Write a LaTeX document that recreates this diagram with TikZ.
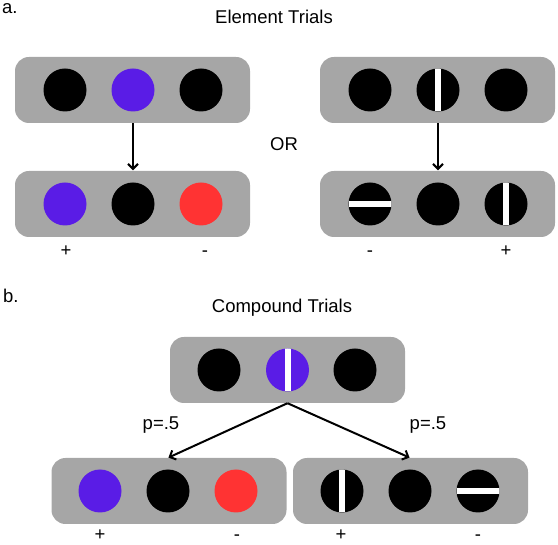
\documentclass[tikz,border=0pt]{standalone}
\usepackage{fontspec}
\setmainfont{Liberation Sans}
\usetikzlibrary{arrows.meta}
\definecolor{boxgray}{HTML}{A6A6A6}
\definecolor{purp}{HTML}{5A1CE6}
\definecolor{redd}{HTML}{FF3333}
\begin{document}
\begin{tikzpicture}[x=1pt,y=-1pt,
  panel/.style={fill=boxgray, rounded corners=14pt, minimum width=235pt, minimum height=66pt, inner sep=0pt},
  dot/.style={circle, fill=black, minimum size=43pt, inner sep=0pt},
  vstripe/.style={path picture={\fill[white] ([xshift=-3pt]path picture bounding box.north) rectangle ([xshift=3pt]path picture bounding box.south);}},
  hstripe/.style={path picture={\fill[white] ([yshift=-3pt]path picture bounding box.west) rectangle ([yshift=3pt]path picture bounding box.east);}},
  lbl/.style={font=\fontsize{18.5}{22}\selectfont, inner sep=0pt, anchor=base},
  arr/.style={line width=2pt, -{Straight Barb[length=5pt,width=10pt,line width=2pt]}, shorten >=0.5pt}
]
\useasboundingbox (0,0) rectangle (558,545);

% ---- part a ----
\node[lbl, anchor=base west] (la) at (2,14) {a.};
\node[lbl] (ta) at (274,24) {Element Trials};
\node[lbl] (or) at (284,151) {OR};

\node[panel] (A1) at (132.5,90) {};
\node[panel] (A2) at (132.5,204) {};
\node[panel] (B1) at (437.5,90) {};
\node[panel] (B2) at (437.5,204) {};

\node[dot] (a11) at (65,90) {};
\node[dot, fill=purp] (a12) at (133,90) {};
\node[dot] (a13) at (201,90) {};
\node[dot, fill=purp] (a21) at (65,204) {};
\node[dot] (a22) at (133,204) {};
\node[dot, fill=redd] (a23) at (201,204) {};

\node[dot] (b11) at (370,90) {};
\node[dot, vstripe] (b12) at (438,90) {};
\node[dot] (b13) at (506,90) {};
\node[dot, hstripe] (b21) at (370,204) {};
\node[dot] (b22) at (438,204) {};
\node[dot, vstripe] (b23) at (506,204) {};

\draw[arr] (A1.south -| a12) -- (A2.north -| a12);
\draw[arr] (B1.south -| b12) -- (B2.north -| b12);

\node[lbl] (pa1) at (66,257) {+};
\node[lbl] (ma1) at (205,257) {-};
\node[lbl] (mb1) at (370,257) {-};
\node[lbl] (pb1) at (506,257) {+};

% ---- part b ----
\node[lbl, anchor=base west] (lb) at (3,303) {b.};
\node[lbl] (tb) at (282,313) {Compound Trials};

\node[panel] (C) at (287.5,370) {};
\node[dot] (c1) at (219,370) {};
\node[dot, fill=purp, vstripe] (c2) at (287.5,370) {};
\node[dot] (c3) at (355,370) {};

\node[panel] (D1) at (169,491) {};
\node[panel] (D2) at (410.5,491) {};
\node[dot, fill=purp] (d11) at (100,491) {};
\node[dot] (d12) at (168,491) {};
\node[dot, fill=redd] (d13) at (236,491) {};
\node[dot, vstripe] (d21) at (342,491) {};
\node[dot] (d22) at (410,491) {};
\node[dot, hstripe] (d23) at (478,491) {};

\draw[arr] (C.south -| c2) -- (D1.north -| d12);
\draw[arr] (C.south -| c2) -- (D2.north -| d22);

\node[lbl] (p1) at (161,430) {p=.5};
\node[lbl] (p2) at (428,430) {p=.5};

\node[lbl] (pd1) at (100,541) {+};
\node[lbl] (md1) at (237,541) {-};
\node[lbl] (pd2) at (341,541) {+};
\node[lbl] (md2) at (478,541) {-};
\end{tikzpicture}
\end{document}
